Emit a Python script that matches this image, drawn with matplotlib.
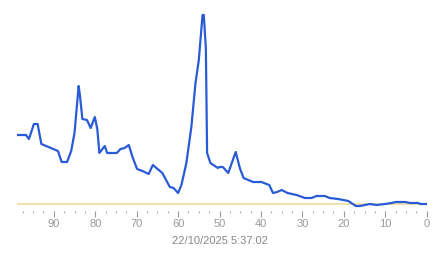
import matplotlib
matplotlib.use("Agg")
import matplotlib.pyplot as plt
from matplotlib.ticker import MultipleLocator

plt.rcParams['font.family'] = ['Liberation Sans', 'DejaVu Sans']

# Data (x = minutes ago, y = relative level above the reference line)
ago = [99, 96.7, 96.0, 94.8, 93.9, 93.0, 89.0, 88.1, 86.8, 85.8, 85.0, 84.0, 83.7,
       83.1, 82.0, 81.1, 80.1, 79.5, 79.0, 77.7, 77.1, 74.8, 73.9, 72.9, 71.9, 71.0,
       69.9, 68.6, 67.1, 66.1, 63.8, 62.0, 61.1, 60.0, 59.2, 58.0, 56.8, 55.8, 55.0,
       54.1, 53.8, 53.3, 53.0, 52.2, 50.4, 50.0, 49.2, 47.9, 46.1, 45.1, 44.2, 41.9,
       39.9, 38.0, 37.1, 36.1, 35.0, 33.6, 31.4, 29.4, 27.8, 26.6, 24.6, 23.4, 21.4,
       18.9, 17.1, 16.1, 13.7, 12.1, 10.1, 8.5, 7.4, 5.2, 4.0, 2.0, 1.6, 0]
level = [69, 69, 65, 80, 80, 60, 53, 42, 42, 53, 71, 118, 109,
         85, 84, 76, 87, 75, 51, 58, 51, 51, 55, 56, 59, 47,
         35, 33, 30, 39, 31, 17, 16, 11, 19, 41, 77, 121, 144,
         189, 189, 156, 51, 41, 36, 37, 37, 31, 52, 36, 26, 22,
         22, 19, 11, 12, 14, 11, 9, 6, 6, 8, 8, 6, 5,
         3, -2, -2, 0, -1, 0, 1, 2, 2, 1, 1, 0, 0]
ref_level = 0
stamp = "22/10/2025 5:37:02"

fig = plt.figure(figsize=(4.43, 2.58), dpi=100)
ax = fig.add_axes([16.5 / 443, 47 / 258, 410.2 / 443, 211 / 258])

ax.axhline(ref_level, color='#eedd99', lw=1.2, zorder=1)
ax.plot(ago, level, color='#2a5bd7', lw=1.6, zorder=2, solid_joinstyle='round')

ax.set_xlim(99, 0)
ax.set_ylim(-7, 204)
for s in ax.spines.values():
    s.set_visible(False)
ax.set_yticks([])
ax.xaxis.set_major_locator(MultipleLocator(10))
ax.xaxis.set_minor_locator(MultipleLocator(2.5))
ax.tick_params(axis='x', which='major', length=4.3, width=0.8, color='#999999',
               labelcolor='#999999', labelsize=8, pad=1.5)
ax.tick_params(axis='x', which='minor', length=1.1, width=0.8, color='#aaaaaa')

fig.text(220 / 443, 1 - 241 / 258, stamp, ha='center', va='center',
         color='#888888', fontsize=8)

fig.savefig("out.png", dpi=100)
